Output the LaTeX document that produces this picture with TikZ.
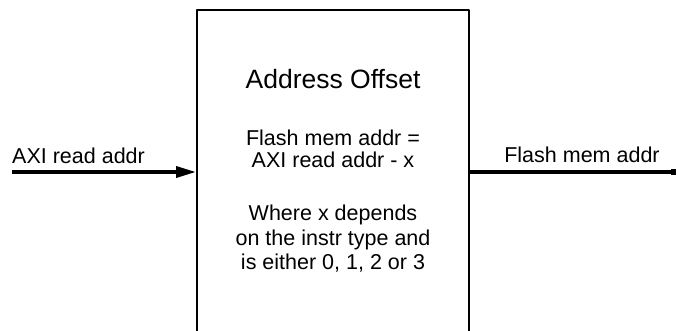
\documentclass[tikz,border=0pt]{standalone}
\usepackage{fontspec}
\setmainfont{Liberation Sans}
\usepackage{tikz}
\usetikzlibrary{arrows.meta}

\begin{document}
\begin{tikzpicture}[x=1pt,y=-1pt,line join=round,
  bodytext/.style={font=\fontsize{21.5}{24.5}\selectfont,align=center,inner sep=0pt},
  wire/.style={line width=3.5pt}]
\useasboundingbox (0,0) rectangle (678,330);
\node[draw,line width=2pt,minimum width=272pt,minimum height=340pt,inner sep=0pt] (offset) at (333,180) {};
\node[font=\fontsize{26.5}{30}\selectfont,inner sep=0pt] (title) at (333,79) {Address Offset};
\node[bodytext,font=\fontsize{21.5}{22}\selectfont] (formula) at (333,149) {Flash mem addr =\\AXI read addr - x};
\node[bodytext] (note) at (333,239) {Where x depends\\on the instr type and\\is either 0, 1, 2 or 3};
\coordinate (axiin) at (12,172);
\coordinate (flashout) at (676,172);
\node[font=\fontsize{21.5}{24}\selectfont,anchor=west,inner sep=0pt] (axilabel) at (12,156) {AXI read addr};
\node[font=\fontsize{21.5}{24}\selectfont,inner sep=0pt] (flashlabel) at (582,155) {Flash mem addr};
\draw[wire,-{Triangle[length=20pt,width=11pt]}] (axiin) -- (offset.west |- axiin);
\draw[wire,-{Square[length=5pt,width=6.5pt]}] (offset.east |- flashout) -- (flashout);
\end{tikzpicture}
\end{document}
